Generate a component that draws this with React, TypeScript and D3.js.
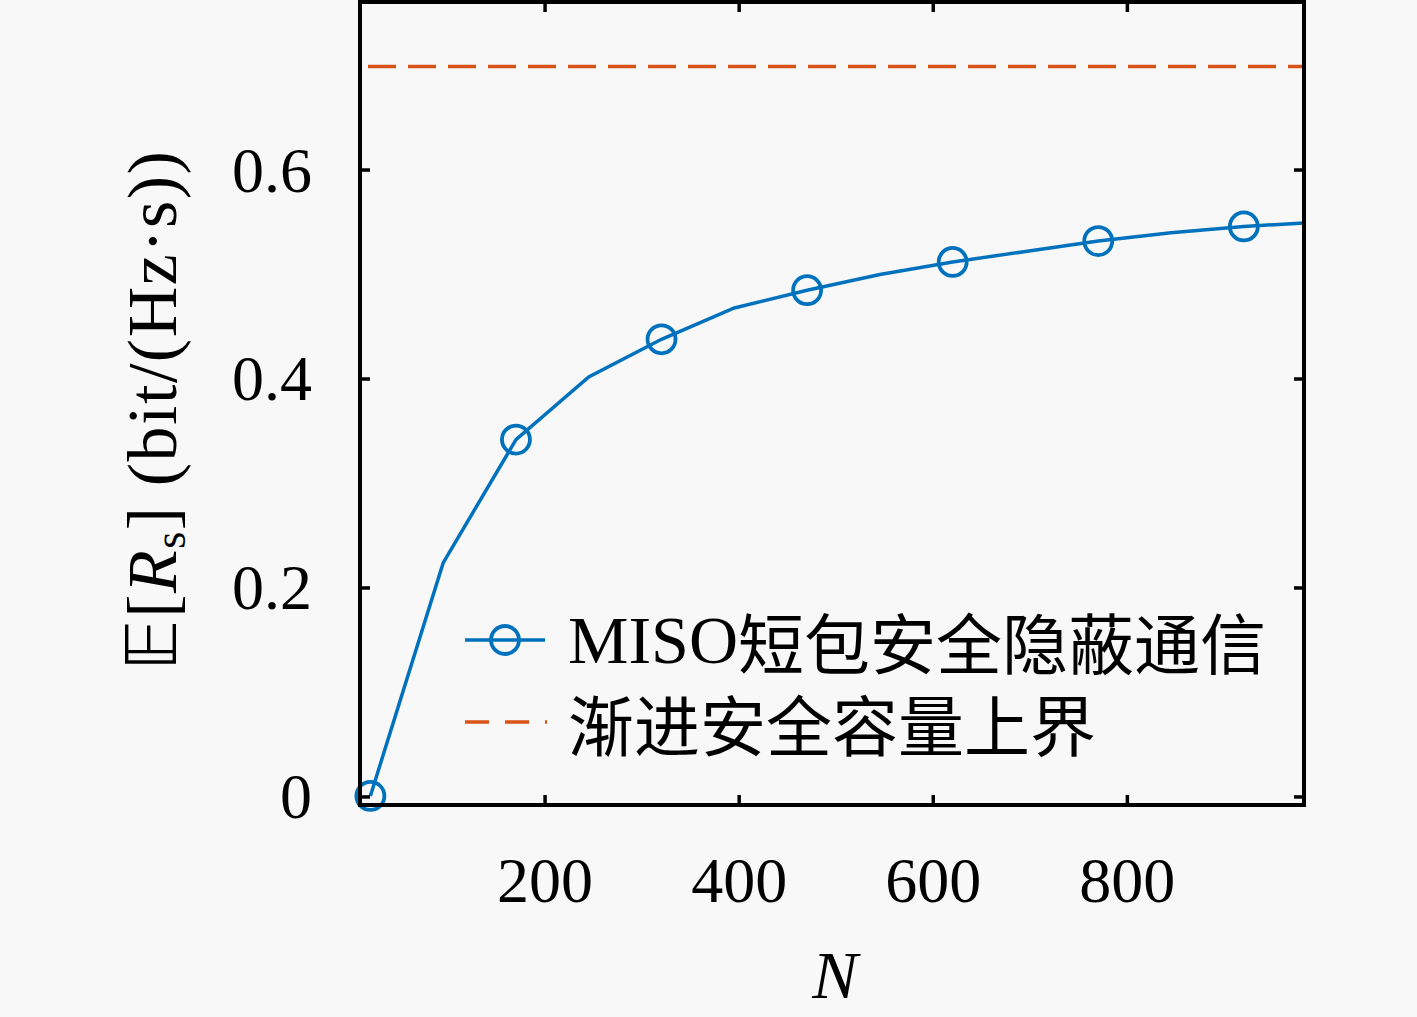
import * as d3 from 'd3';

// sample counts N (blocklength)
const nValues = [20, 95, 170, 245, 320, 395, 470, 545, 620, 695, 770, 845, 920, 995];
// achieved average secrecy rate E[R_s]
const rateValues = [0.001, 0.224, 0.342, 0.402, 0.438, 0.468, 0.485, 0.5, 0.512, 0.522, 0.532, 0.54, 0.546, 0.55];
// markers drawn every other sample
const markerIdx = [0, 2, 4, 6, 8, 10, 12];
const boundValue = 0.699;

const xTicks = [200, 400, 600, 800];
const yTicks = [0, 0.2, 0.4, 0.6];
const legendLabels = ['MISO短包安全隐蔽通信', '渐进安全容量上界'];

const W = 1417;
const H = 1017;
const box = { left: 360, right: 1304, top: 2, bottom: 805 };

const blue = '#0072BD';
const red = '#D95319';
const serif = '"Liberation Serif", "DejaVu Serif", serif';
const cjk = '"Noto Sans CJK SC", "Liberation Serif", serif';

export default function App() {
  const x = d3.scaleLinear().domain([9.3, 982]).range([box.left, box.right]);
  const y = d3.scaleLinear().domain([-0.0077, 0.7608]).range([box.bottom, box.top]);

  const pts = nValues.map((n, i) => ({ n, r: rateValues[i] }));
  const line = d3
    .line<{ n: number; r: number }>()
    .x((d) => x(d.n))
    .y((d) => y(d.r));

  const tickLen = 10;

  return (
    <div style={{ position: 'fixed', left: 0, top: 0, width: W, height: H, background: '#f8f8f8' }}>
      <svg width={W} height={H} style={{ display: 'block' }}>
        <defs>
          <clipPath id="plot">
            <rect x={box.left} y={box.top} width={box.right - box.left} height={box.bottom - box.top} />
          </clipPath>
        </defs>
        <rect width={W} height={H} fill="#f8f8f8" />

        {/* data */}
        <g clipPath="url(#plot)">
          <line
            x1={box.left}
            x2={box.right}
            y1={y(boundValue)}
            y2={y(boundValue)}
            stroke={red}
            strokeWidth={3.5}
            strokeDasharray="28 12"
            strokeDashoffset={32}
          />
          <path d={line(pts) ?? ''} fill="none" stroke={blue} strokeWidth={3.5} />
        </g>
        {markerIdx.map((i) => (
          <circle key={i} cx={x(nValues[i])} cy={y(rateValues[i])} r={14} fill="none" stroke={blue} strokeWidth={3.8} />
        ))}

        {/* ticks (inward, mirrored) */}
        <g stroke="#000" strokeWidth={3.5}>
          {xTicks.map((t) => (
            <g key={t}>
              <line x1={x(t)} x2={x(t)} y1={box.bottom} y2={box.bottom - tickLen} />
              <line x1={x(t)} x2={x(t)} y1={box.top} y2={box.top + tickLen} />
            </g>
          ))}
          {yTicks.map((t) => (
            <g key={t}>
              <line x1={box.left} x2={box.left + tickLen} y1={y(t)} y2={y(t)} />
              <line x1={box.right} x2={box.right - tickLen} y1={y(t)} y2={y(t)} />
            </g>
          ))}
        </g>
        <rect
          x={box.left}
          y={box.top}
          width={box.right - box.left}
          height={box.bottom - box.top}
          fill="none"
          stroke="#000"
          strokeWidth={4}
        />

        {/* tick labels */}
        <g fontFamily={serif} fontSize={64} fill="#000">
          {xTicks.map((t) => (
            <text key={t} x={x(t)} y={902} textAnchor="middle">
              {t}
            </text>
          ))}
          {yTicks.map((t) => (
            <text key={t} x={312} y={y(t)} textAnchor="end" dominantBaseline="central">
              {t === 0 ? '0' : t.toFixed(1)}
            </text>
          ))}
        </g>

        {/* axis labels */}
        <text x={835} y={998} textAnchor="middle" fontFamily={serif} fontSize={68} fontStyle="italic">
          N
        </text>
        <text
          transform="translate(176,410) rotate(-90)"
          textAnchor="middle"
          fontFamily={serif}
          fontSize={70}
          letterSpacing={1.5}
        >
          <tspan fontFamily='"DejaVu Sans", serif'>𝔼</tspan>
          <tspan>[</tspan>
          <tspan fontStyle="italic">R</tspan>
          <tspan fontSize={44} dy={9}>s</tspan>
          <tspan dy={-9}>] (bit/(Hz·s))</tspan>
        </text>

        {/* legend */}
        <g>
          <line x1={465} x2={545} y1={640} y2={640} stroke={blue} strokeWidth={3.5} />
          <circle cx={505} cy={640} r={14} fill="none" stroke={blue} strokeWidth={3.8} />
          <line x1={465} x2={547} y1={722} y2={722} stroke={red} strokeWidth={3.5} strokeDasharray="24 16" />
          <text x={568} y={640} dominantBaseline="central" fontFamily={cjk} fontSize={66}>
            <tspan fontFamily={serif} fontSize={68}>MISO</tspan>
            {legendLabels[0].slice(4)}
          </text>
          <text x={568} y={722} dominantBaseline="central" fontFamily={cjk} fontSize={66}>
            {legendLabels[1]}
          </text>
        </g>
      </svg>
    </div>
  );
}
